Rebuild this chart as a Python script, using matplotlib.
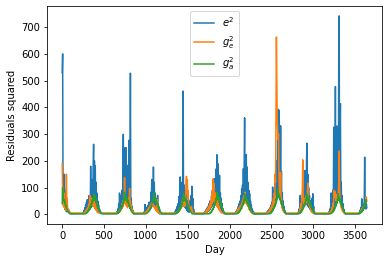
import numpy as np
import matplotlib
matplotlib.use("Agg")
import matplotlib.pyplot as plt

STEP = 5  # days between samples inside each season

# e^2 (blue): season start days and values
e2_starts = [0, 245, 650, 975, 1340, 1690, 2060, 2440, 2815, 3185, 3545]
e2_vals = [
    [530, 600, 40, 120, 30, 150, 20, 90, 15, 60, 10, 40, 12, 20, 8, 18, 5, 10, 3, 2],
    [3, 8, 2, 15, 4, 25, 6, 35, 8, 45, 10, 55, 12, 40, 15, 70, 18, 60, 20, 180, 25, 100, 30, 130, 35, 180, 262, 40, 200, 30, 182, 25, 120, 20, 80, 15, 50, 10, 35, 8, 20, 5, 10, 3],
    [3, 10, 4, 20, 6, 40, 10, 80, 15, 70, 20, 50, 25, 90, 30, 150, 299, 40, 200, 50, 249, 40, 250, 35, 120, 183, 30, 140, 40, 200, 277, 50, 140, 528, 30, 60, 15, 30, 8, 15, 4, 8, 2],
    [3, 10, 3, 37, 8, 20, 5, 25, 8, 30, 10, 35, 12, 46, 15, 40, 20, 83, 25, 130, 30, 100, 35, 177, 40, 120, 35, 80, 30, 60, 20, 50, 15, 71, 10, 30, 5, 10, 2],
    [2, 8, 3, 15, 5, 20, 8, 30, 10, 40, 15, 67, 20, 60, 140, 30, 120, 40, 90, 35, 150, 461, 40, 110, 30, 80, 25, 60, 20, 90, 15, 50, 10, 40, 55, 8, 30, 10, 50, 12, 70, 15, 105, 10, 60, 5, 20, 3, 8, 2],
    [2, 6, 3, 10, 4, 15, 5, 20, 8, 25, 10, 30, 12, 40, 15, 50, 20, 45, 25, 67, 30, 90, 35, 110, 40, 100, 133, 45, 120, 50, 170, 60, 223, 50, 190, 40, 110, 35, 146, 30, 80, 20, 60, 15, 40, 10, 20, 5, 8, 2],
    [2, 6, 3, 10, 4, 15, 6, 20, 8, 30, 10, 40, 15, 50, 20, 70, 25, 96, 30, 110, 35, 171, 40, 200, 361, 50, 180, 45, 224, 40, 177, 35, 120, 30, 90, 25, 77, 20, 50, 15, 35, 10, 20, 6, 12, 4, 8, 2, 4, 1],
    [2, 8, 3, 12, 4, 15, 6, 20, 8, 25, 10, 35, 12, 45, 15, 102, 20, 70, 25, 90, 30, 117, 40, 150, 50, 200, 60, 300, 393, 80, 390, 100, 331, 60, 331, 40, 160, 30, 80, 20, 50, 15, 30, 8, 15, 4, 8, 2],
    [2, 8, 3, 20, 5, 40, 71, 10, 60, 15, 50, 20, 80, 25, 100, 30, 140, 164, 35, 120, 40, 200, 266, 35, 150, 30, 100, 25, 70, 20, 50, 15, 40, 10, 60, 8, 77, 5, 30, 3, 10, 2],
    [2, 10, 4, 20, 6, 40, 80, 10, 50, 15, 90, 20, 326, 30, 300, 40, 478, 50, 330, 60, 320, 70, 330, 80, 600, 742, 90, 300, 414, 60, 120, 30, 70, 20, 40, 10, 20, 5, 8, 2],
    [2, 8, 3, 15, 5, 25, 8, 58, 10, 40, 15, 30, 20, 50, 214, 30, 60, 20, 40, 25],
]

# g_e^2 (orange)
ge2_starts = [0, 260, 660, 990, 1365, 1700, 2070, 2450, 2830, 3200, 3555]
ge2_vals = [
    [190, 60, 100, 30, 80, 25, 40, 20, 30, 15, 150, 30, 60, 15, 20, 10, 15, 8, 10, 6, 5],
    [5, 8, 6, 10, 8, 15, 10, 20, 15, 25, 20, 35, 25, 45, 71, 30, 50, 35, 60, 40, 50, 35, 45, 30, 55, 25, 40, 20, 30, 15, 20, 10, 15, 8, 6, 5],
    [5, 8, 6, 12, 8, 15, 10, 20, 15, 25, 20, 40, 25, 50, 30, 60, 40, 137, 45, 60, 35, 50, 30, 45, 25, 40, 30, 60, 35, 97, 30, 50, 20, 35, 15, 20, 10, 12, 8, 6, 5],
    [5, 8, 6, 10, 8, 15, 10, 20, 15, 25, 20, 30, 25, 35, 30, 40, 30, 45, 35, 40, 30, 35, 25, 30, 20, 25, 15, 20, 10, 55, 8, 12, 6, 5],
    [5, 8, 6, 10, 8, 15, 10, 20, 15, 25, 20, 35, 25, 45, 30, 60, 35, 50, 30, 45, 30, 40, 60, 120, 142, 80, 130, 60, 90, 40, 30, 20, 25, 15, 20, 12, 30, 10, 15, 8, 6, 5],
    [5, 8, 6, 10, 8, 15, 10, 20, 12, 25, 15, 30, 20, 40, 25, 50, 30, 70, 40, 90, 60, 133, 50, 115, 45, 60, 40, 80, 35, 70, 30, 50, 25, 40, 20, 30, 15, 20, 10, 12, 8, 6, 5],
    [5, 8, 6, 10, 8, 15, 10, 20, 12, 25, 15, 30, 20, 35, 25, 40, 30, 50, 35, 60, 40, 70, 45, 83, 50, 60, 40, 55, 35, 45, 30, 35, 20, 25, 15, 18, 10, 12, 8, 6, 5],
    [5, 8, 6, 10, 8, 15, 10, 20, 15, 25, 20, 35, 25, 45, 30, 60, 40, 80, 60, 150, 120, 400, 663, 500, 350, 310, 280, 300, 150, 100, 80, 60, 158, 40, 60, 25, 35, 15, 20, 10, 12, 8, 6, 5],
    [5, 10, 15, 25, 20, 40, 30, 60, 100, 204, 60, 50, 40, 60, 35, 50, 40, 70, 45, 60, 80, 117, 50, 60, 35, 40, 25, 30, 15, 20, 10, 12, 8, 6, 5],
    [5, 10, 8, 15, 12, 25, 20, 40, 30, 60, 90, 70, 85, 60, 75, 50, 65, 55, 70, 60, 80, 120, 237, 90, 60, 40, 30, 25, 20, 15, 12, 10, 8, 6, 5],
    [5, 8, 10, 15, 12, 20, 18, 25, 20, 30, 25, 35, 30, 45, 40, 60, 65, 50],
]

# g_a^2 (green)
ga2_starts = [0, 275, 650, 1000, 1355, 1755, 2085, 2480, 2825, 3205, 3545]
ga2_vals = [
    [40, 100, 70, 60, 50, 55, 40, 45, 30, 35, 25, 20, 18, 15, 12, 10, 8, 6, 4, 3, 2],
    [2, 4, 3, 6, 5, 10, 8, 15, 12, 20, 18, 28, 22, 35, 30, 45, 40, 55, 48, 65, 55, 75, 60, 70, 50, 60, 45, 50, 35, 40, 28, 30, 20, 22, 15, 15, 10, 10, 6, 5, 3, 2],
    [2, 4, 3, 6, 5, 10, 8, 15, 12, 20, 18, 28, 22, 35, 30, 45, 40, 60, 50, 83, 60, 70, 55, 65, 50, 60, 45, 55, 40, 45, 30, 35, 22, 25, 15, 15, 10, 10, 6, 5, 3, 2],
    [2, 3, 4, 5, 6, 8, 10, 12, 15, 18, 20, 25, 28, 32, 35, 42, 45, 55, 60, 80, 55, 65, 50, 58, 45, 52, 40, 45, 32, 38, 25, 28, 18, 20, 12, 10, 8, 6, 4, 2],
    [2, 4, 3, 6, 5, 9, 8, 14, 12, 20, 16, 26, 22, 34, 28, 42, 38, 55, 50, 77, 58, 68, 52, 60, 48, 55, 42, 48, 35, 40, 28, 30, 20, 22, 14, 14, 10, 8, 5, 3, 2],
    [2, 4, 3, 7, 6, 10, 9, 16, 14, 22, 20, 30, 26, 38, 34, 48, 44, 60, 55, 83, 62, 72, 56, 66, 50, 58, 44, 50, 36, 42, 28, 32, 20, 22, 14, 12, 8, 6, 4, 2],
    [2, 4, 3, 6, 5, 10, 8, 14, 12, 20, 18, 26, 22, 34, 30, 42, 38, 55, 48, 77, 58, 66, 52, 60, 46, 54, 40, 46, 32, 38, 25, 28, 18, 20, 12, 10, 8, 6, 4, 2],
    [2, 4, 3, 7, 6, 12, 10, 18, 15, 25, 22, 32, 28, 40, 36, 50, 46, 65, 58, 96, 70, 80, 62, 72, 55, 62, 48, 52, 38, 42, 30, 32, 22, 22, 14, 12, 8, 6, 4, 2],
    [2, 4, 3, 6, 5, 10, 8, 15, 12, 20, 18, 28, 24, 35, 30, 44, 40, 56, 50, 77, 60, 68, 52, 62, 46, 55, 40, 48, 32, 38, 25, 28, 18, 20, 12, 10, 8, 6, 4, 2],
    [2, 4, 3, 6, 5, 10, 8, 15, 12, 22, 18, 30, 25, 38, 32, 46, 42, 58, 52, 77, 60, 66, 50, 56, 42, 48, 35, 38, 26, 28, 18, 18, 12, 10, 6, 4, 2],
    [2, 4, 3, 6, 5, 10, 8, 15, 12, 20, 18, 28, 22, 35, 30, 45, 40, 55, 48],
]

labels = ["$e^2$", "$g_e^2$", "$g_a^2$"]


def assemble(starts, vals):
    days, ys = [], []
    for s, v in zip(starts, vals):
        days.extend(s + STEP * np.arange(len(v)))
        ys.extend(v)
    return np.array(days), np.array(ys, dtype=float)


fig = plt.figure(figsize=(389 / 72, 262 / 72), dpi=72)
ax = fig.add_axes([47 / 389, 38 / 262, 335 / 389, 218 / 262])

for (starts, vals), lab in zip([(e2_starts, e2_vals), (ge2_starts, ge2_vals), (ga2_starts, ga2_vals)], labels):
    d, y = assemble(starts, vals)
    ax.plot(d, y, label=lab)

ax.set_xlabel("Day")
ax.set_ylabel("Residuals squared")
ax.set_xticks(np.arange(0, 3501, 500))
ax.set_yticks(np.arange(0, 701, 100))
ax.legend(loc="upper center")

fig.savefig("out.png", dpi=72)
